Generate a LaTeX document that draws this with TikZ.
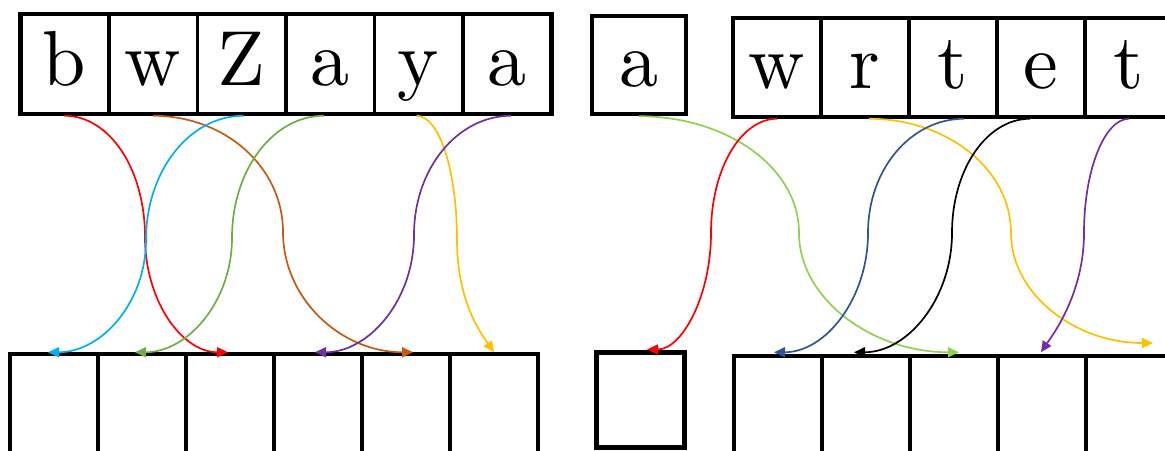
\documentclass[tikz,border=0pt]{standalone}
\usepackage{fontspec}
\newfontfamily\cellfont{lmroman10-regular}[Extension=.otf]
\usetikzlibrary{arrows.meta,calc}
\definecolor{cRed}{HTML}{FF0000}
\definecolor{cBrown}{HTML}{C55A11}
\definecolor{cSky}{HTML}{00B0F0}
\definecolor{cGreen}{HTML}{70AD47}
\definecolor{cGold}{HTML}{FFC000}
\definecolor{cPurple}{HTML}{7030A0}
\definecolor{cLime}{HTML}{92D050}
\definecolor{cNavy}{HTML}{2F5597}
\begin{document}
\begin{tikzpicture}[x=1pt,y=-1pt,
  cell/.style={draw,line width=3.5pt,minimum width=88.5pt,minimum height=100pt,inner sep=0pt,
    font=\cellfont\fontsize{78}{80}\selectfont,text height=50pt,text depth=8pt},
  conn/.style={line width=1.7pt,-{Triangle[length=11pt,width=10pt]}}]
\useasboundingbox (0,0) rectangle (1165,450);
\clip (0,0) rectangle (1165,450);
% top left row
\foreach \i/\t in {1/b,2/w,3/Z,4/a,5/y,6/a}
  \node[cell] (t\i) at ({64.5+88.5*(\i-1)},64) {\t};
\draw[line width=4.5pt] (20.25,14) rectangle (551.25,114);
% bottom left row
\foreach \i in {1,...,6}
  \node[cell,minimum width=88pt] (b\i) at ({54+88*(\i-1)},404) {};
\draw[line width=4.5pt] (10,354) -- (538,354);
% top right
\node[cell,minimum width=94pt,minimum height=98pt,line width=4.5pt] (ta) at (639,65) {a};
\foreach \i/\t in {1/w,2/r,3/t,4/e,5/t}
  \node[cell,minimum width=88pt,minimum height=99pt] (r\i) at ({777+88*(\i-1)},67.5) {\t};
\draw[line width=4.5pt] (733,18) -- (1180,18) (733,117) -- (1180,117) (733,18) -- (733,117);
% bottom right
\node[cell,minimum width=88pt,minimum height=95pt,line width=5pt] (ba) at (640,399.5) {};
\foreach \i in {1,...,5}
  \node[cell,minimum width=88pt] (s\i) at ({778+88*(\i-1)},406) {};
\draw[line width=4.5pt] (734,356) -- (1180,356);
% mid points
\coordinate (m1) at (145,237);
\coordinate (m2) at (283,232);
\coordinate (m3) at (146,240);
\coordinate (m4) at (232,238);
\coordinate (m5) at (457,240);
\coordinate (m6) at (414,235);
\coordinate (m7) at (799,233);
\coordinate (m8) at (711,233);
\coordinate (m9) at (1011,233);
\coordinate (m10) at (868,233);
\coordinate (m11) at (952,233);
\coordinate (m12) at (1084,233);
\coordinate (free) at (1153,343);
% left connectors
\draw[conn,cRed] (t1.south) .. controls +(45,0) and +(0,-68) .. (m1)
  .. controls +(0,64) and +(-46,0) .. ($(b3.north)+(-2,0)$);
\draw[conn,cBrown] (t2.south) .. controls +(72,0) and +(0,-65) .. (m2)
  .. controls +(0,67) and +(-72,0) .. ($(b5.north)+(7,0)$);
\draw[conn,cSky] ($(t3.south)+(2,0)$) .. controls +(-54,0) and +(0,-69) .. (m3)
  .. controls +(0,62) and +(54,0) .. ($(b1.north)+(-6,0)$);
\draw[conn,cGreen] ($(t4.south)+(-6,0)$) .. controls +(-51,0) and +(0,-68) .. (m4)
  .. controls +(0,63) and +(53,0) .. ($(b2.north)+(-7,0)$);
\draw[conn,cGold] ($(t5.south)+(-2,0)$) .. controls +(23,0) and +(0,-69) .. (m5)
  .. controls +(0,60) and +(-14,-20) .. (b6.north);
\draw[conn,cPurple] ($(t6.south)+(4,0)$) .. controls +(-53,0) and +(0,-67) .. (m6)
  .. controls +(0,65) and +(54,0) .. ($(b4.north)+(-3,0)$);
% right connectors
\draw[conn,cLime] (ta.south) .. controls +(87,0) and +(0,-66) .. (m7)
  .. controls +(0,65) and +(-88,0) .. ($(s3.north)+(5,-2)$);
\draw[conn,cRed] (r1.south) .. controls +(-36,0) and +(0,-64) .. (m8)
  .. controls +(0,63) and +(35,0) .. ($(ba.north)+(7,0)$);
\draw[conn,cGold] ($(r2.south)+(4,0)$) .. controls +(78,0) and +(0,-64) .. (m9)
  .. controls +(0,61) and +(-78,0) .. (free);
\draw[conn,cNavy] ($(r3.south)+(11,0)$) .. controls +(-53,0) and +(0,-64) .. (m10)
  .. controls +(0,65) and +(52,0) .. ($(s1.north)+(-4,-2)$);
\draw[conn,black] ($(r4.south)+(-11,0)$) .. controls +(-43,0) and +(0,-64) .. (m11)
  .. controls +(0,65) and +(54,0) .. ($(s2.north)+(-12,-2)$);
\draw[conn,cPurple] (r5.south) .. controls +(-24,0) and +(0,-64) .. (m12)
  .. controls +(0,62) and +(10,-15) .. ($(s4.north)+(-1,-2)$);
\end{tikzpicture}
\end{document}
